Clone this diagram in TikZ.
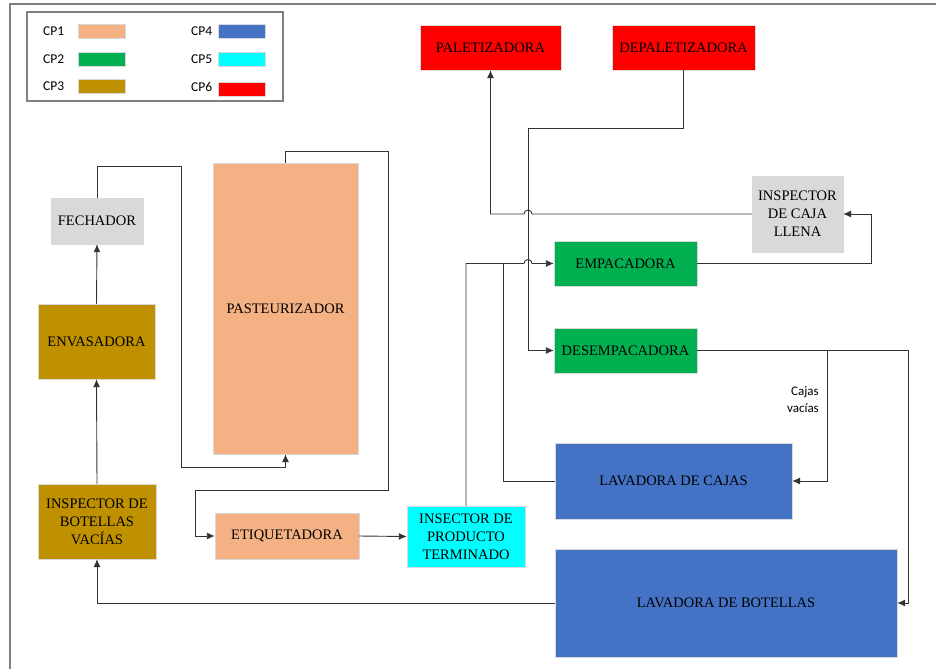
\documentclass[tikz,border=0pt]{standalone}
\usepackage{fontspec}
\usetikzlibrary{arrows.meta}
\setmainfont{Liberation Serif}
\newfontfamily\calibri{Carlito}
\definecolor{cpuno}{HTML}{F4B183}
\definecolor{cpdos}{HTML}{00B050}
\definecolor{cptres}{HTML}{BF9000}
\definecolor{cpcuatro}{HTML}{4472C4}
\definecolor{cpcinco}{HTML}{00FFFF}
\definecolor{cpseis}{HTML}{FF0000}
\definecolor{gris}{HTML}{D9D9D9}
\begin{document}
\begin{tikzpicture}[x=1pt,y=-1pt,>={Latex[length=8pt,width=7pt]},
  maquina/.style={fill=#1,draw=white!85!black,inner sep=0pt,align=center,
    font=\fontsize{14.5}{18}\selectfont},
  muestra/.style={fill=#1,draw=white!85!black,minimum width=47pt,minimum height=14pt,inner sep=0pt},
  leyenda/.style={anchor=west,inner sep=0pt,font=\calibri\fontsize{13.5}{16}\selectfont},
  flecha/.style={draw=black!80,line width=0.9pt}]
  \useasboundingbox (0,0) rectangle (936,669);
  \draw[gray,line width=1.5pt] (10,669) -- (10,4) -- (936,4);

  \draw[gray,line width=1.2pt] (27,12) rectangle (283,101);
  \node[leyenda] (cp1) at (43,31) {CP1};
  \node[leyenda] (cp2) at (43,59) {CP2};
  \node[leyenda] (cp3) at (43,86) {CP3};
  \node[leyenda] (cp4) at (191,31) {CP4};
  \node[leyenda] (cp5) at (191,59) {CP5};
  \node[leyenda] (cp6) at (191,87) {CP6};
  \node[muestra=cpuno] (m1) at (101.5,31) {};
  \node[muestra=cpdos] (m2) at (101.5,59) {};
  \node[muestra=cptres] (m3) at (101.5,86) {};
  \node[muestra=cpcuatro] (m4) at (241.5,31) {};
  \node[muestra=cpcinco] (m5) at (241.5,59) {};
  \node[muestra=cpseis] (m6) at (241.5,89) {};

  \node[maquina=cpseis,minimum width=141pt,minimum height=45pt] (pal) at (490.5,47.5) {PALETIZADORA};
  \node[maquina=cpseis,minimum width=143pt,minimum height=45pt] (depal) at (683.5,47.5) {DEPALETIZADORA};
  \node[maquina=gris,minimum width=91pt,minimum height=76pt] (inspcaja) at (797.5,214) {INSPECTOR\\DE CAJA\\LLENA};
  \node[maquina=cpdos,minimum width=143pt,minimum height=45pt] (emp) at (625.5,263.5) {EMPACADORA};
  \node[maquina=cpdos,minimum width=143pt,minimum height=45pt] (desemp) at (625.5,350.5) {DESEMPACADORA};
  \node[maquina=cpcuatro,minimum width=237pt,minimum height=76pt] (lavcajas) at (673.5,481) {LAVADORA DE CAJAS};
  \node[maquina=cpcuatro,minimum width=342pt,minimum height=108pt] (lavbot) at (726,603) {LAVADORA DE BOTELLAS};
  \node[maquina=cpcinco,minimum width=118pt,minimum height=61pt] (insprod) at (466,536.5) {INSECTOR DE\\PRODUCTO\\TERMINADO};
  \node[maquina=cpuno,minimum width=144pt,minimum height=46pt] (etiq) at (287,536) {ETIQUETADORA};
  \node[maquina=cptres,minimum width=118pt,minimum height=75pt] (inspbot) at (97,521.5) {INSPECTOR DE\\BOTELLAS\\VACÍAS};
  \node[maquina=cptres,minimum width=117pt,minimum height=75pt] (envas) at (96.5,341.5) {ENVASADORA};
  \node[maquina=gris,minimum width=92pt,minimum height=46pt] (fech) at (97,221) {FECHADOR};
  \node[maquina=cpuno,minimum width=145pt,minimum height=291pt] (paste) at (285.5,308.5) {PASTEURIZADOR};

  \node[anchor=east,align=right,inner sep=0pt,font=\calibri\fontsize{13}{17}\selectfont] (vacias) at (819,400) {Cajas\\vacías};

  \draw[flecha,->] (depal.south) |- (528,128) |- (desemp.west);
  \draw[flecha,->] (inspcaja.west) -- (532,214) arc[start angle=0,end angle=180,radius=4pt]
    -- (pal.south |- inspcaja.west) -- (pal.south);
  \draw[flecha,->] (emp.east) -- (871,263.5) |- (inspcaja.east);
  \draw[flecha,->] (desemp.east) -- (908,350.5) |- (lavbot.east);
  \draw[flecha,->] (827,350.5) |- (lavcajas.east);
  \draw[flecha] (lavcajas.west) -| (503,263.5);
  \draw[flecha,->] (insprod.north) |- (524,263.5) arc[start angle=180,end angle=0,radius=4pt]
    -- (emp.west);
  \draw[flecha,->] (etiq.east) -- (insprod.west);
  \draw[flecha,->] (lavbot.west) -| (inspbot.south);
  \draw[flecha,->] (inspbot.north) -- (envas.south);
  \draw[flecha,->] (envas.north) -- (fech.south);
  \draw[flecha,->] (fech.north) |- (181,166) -- (181,467) -| (paste.south);
  \draw[flecha,->] (paste.north) |- (388,151) |- (195,490) |- (etiq.west);
\end{tikzpicture}
\end{document}
